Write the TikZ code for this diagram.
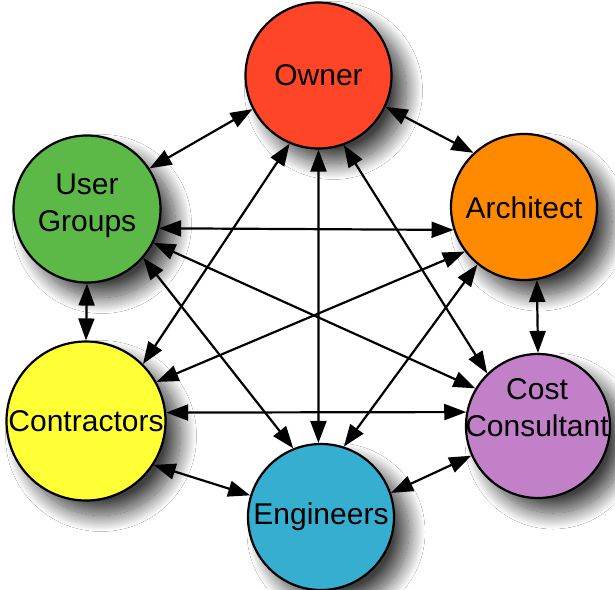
\documentclass[tikz,border=0pt]{standalone}
\usepackage{fontspec}
\setmainfont{Liberation Sans}
\usetikzlibrary{arrows.meta,shadows.blur}
\definecolor{cOwner}{HTML}{FF4528}
\definecolor{cUser}{HTML}{5CB948}
\definecolor{cArch}{HTML}{FF8A00}
\definecolor{cCon}{HTML}{FFFF35}
\definecolor{cCost}{HTML}{C280C8}
\definecolor{cEng}{HTML}{35AED0}
\begin{document}
\begin{tikzpicture}[x=1pt,y=-1pt,
  actor/.style={circle, draw=black, line width=2.2pt, minimum size=#1, inner sep=0pt,
    blur shadow={shadow xshift=15pt, shadow yshift=-15pt, shadow blur radius=16pt, shadow blur steps=25, shadow opacity=75}},
  lbl/.style={font=\fontsize{30}{37}\selectfont, align=center, text=black, inner sep=0pt},
  link/.style={{Triangle[length=22pt,width=16pt]}-{Triangle[length=22pt,width=16pt]}, line width=2.2pt}]
\useasboundingbox (0,0) rectangle (615,589);
\fill[white] (0,0) rectangle (615,589);

\node[actor=146pt, fill=cOwner] (owner) at (318.5,75.5) {};
\node[actor=147pt, fill=cUser]  (ug)    at (87,209) {};
\node[actor=146pt, fill=cArch]  (arch)  at (524,207) {};
\node[actor=159pt, fill=cCon]   (con)   at (86,421) {};
\node[actor=144pt, fill=cCost]  (cost)  at (538,426) {};
\node[actor=146pt, fill=cEng]   (eng)   at (321,517) {};

\draw[link] (owner.207) -- (ug.33);
\draw[link] (owner.-25) -- (arch.133);
\draw[link] (owner.-113) -- (con.45);
\draw[link] (owner.-90) -- (eng.92);
\draw[link] (owner.-70) -- (cost.134);
\draw[link] (ug.-15) -- (arch.198);
\draw[link] (ug.-27) -- (cost.149);
\draw[link] (ug.-41) -- (eng.112);
\draw[link] (ug.-90) -- (con.90);
\draw[link] (arch.217) -- (con.29);
\draw[link] (arch.231) -- (eng.72);
\draw[link] (arch.-80) -- (cost.90);
\draw[link] (con.6) -- (cost.169);
\draw[link] (con.-33) -- (eng.163);
\draw[link] (eng.19) -- (cost.204);

\node[lbl] (towner) at (318.5,75) {Owner};
\node[lbl] (tug)    at (87,206) {User\\Groups};
\node[lbl] (tarch)  at (524,208) {Architect};
\node[lbl] (tcon)   at (86,421) {Contractors};
\node[lbl] (tcost)  at (537,408) {Cost\\Consultant};
\node[lbl] (teng)   at (321,517) {Engineers};
\end{tikzpicture}
\end{document}
